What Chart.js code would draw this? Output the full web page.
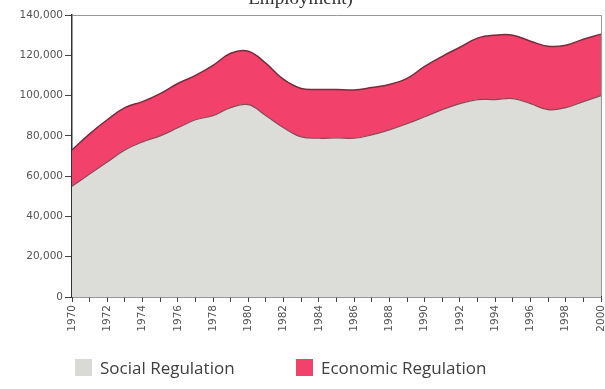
<!DOCTYPE html>
<html>
<head>
<meta charset="utf-8">
<script src="https://cdn.jsdelivr.net/npm/chart.js@4.4.1/dist/chart.umd.min.js"></script>
<style>
  body { margin: 0; background: #fff; overflow: hidden; }
  #wrap { position: absolute; left: 0; top: -12px; width: 605px; height: 401px; }
  #legend { position: absolute; left: 0; top: 357px; width: 605px; height: 24px;
            font-family: "Open Sans", sans-serif; font-size: 17px; color: #404040; }
  .item { position: absolute; top: 0; line-height: 22px; }
  .box { display: inline-block; width: 17px; height: 17px; vertical-align: -2px; margin-right: 8px; }
</style>
</head>
<body>
<div id="wrap"><canvas id="myChart" width="605" height="401"></canvas></div>
<div id="legend">
  <div class="item" style="left:75px"><span class="box" style="background:#d9d9d5"></span>Social Regulation</div>
  <div class="item" style="left:296px"><span class="box" style="background:#f2426b"></span>Economic Regulation</div>
</div>
<script>
const years = [1970, 1971, 1972, 1973, 1974, 1975, 1976, 1977, 1978, 1979,
  1980, 1981, 1982, 1983, 1984, 1985, 1986, 1987, 1988, 1989,
  1990, 1991, 1992, 1993, 1994, 1995, 1996, 1997, 1998, 1999, 2000];

const socialRegulation = [55000, 61000, 67000, 73000, 77000, 80000, 84000, 88000, 90000, 94000,
  95500, 90000, 84000, 79500, 78800, 79000, 78800, 80500, 83000, 86000,
  89500, 93000, 96000, 98000, 98000, 98500, 96000, 93000, 94000, 97000, 100000];

const economicRegulation = [18000, 20000, 21000, 21000, 20000, 21000, 22000, 22000, 25000, 27000,
  26500, 26000, 24000, 24000, 24200, 24000, 24000, 23500, 22500, 22500,
  25000, 26500, 28000, 30500, 32000, 31500, 31000, 31500, 31000, 31000, 30500];

const yTicks = [0, 20000, 40000, 60000, 80000, 100000, 120000, 140000];

const tickFont = { family: "DejaVu Sans, sans-serif", size: 10.5 };

new Chart("myChart", {
  type: "line",
  data: {
    labels: years,
    datasets: [{
      label: "Social Regulation",
      data: socialRegulation,
      backgroundColor: "#dcdcd8",
      borderColor: "#8a4a55",
      borderWidth: 1.2,
      fill: "origin",
      tension: 0.4,
      pointRadius: 0
    }, {
      label: "Economic Regulation",
      data: economicRegulation,
      backgroundColor: "#f2426b",
      borderColor: "#7a2c3c",
      borderWidth: 1.5,
      fill: "-1",
      tension: 0.4,
      pointRadius: 0
    }]
  },
  options: {
    animation: false,
    responsive: false,
    layout: { padding: { left: 0, right: 4, top: 0, bottom: 0 } },
    plugins: {
      legend: { display: false },
      tooltip: { enabled: false },
      title: {
        display: true,
        text: "Employment)",
        color: "#333",
        font: { family: "Liberation Serif, serif", size: 19, weight: "normal" },
        padding: { top: 0, bottom: 4.2 }
      }
    },
    scales: {
      x: {
        offset: false,
        border: { display: true, color: "#333", width: 1.5 },
        grid: {
          drawOnChartArea: true,
          tickLength: 5,
          tickColor: "#444",
          color: ctx => ctx.index === years.length - 1 ? "#999" : "rgba(0,0,0,0)"
        },
        ticks: {
          autoSkip: false,
          maxRotation: 90,
          minRotation: 90,
          padding: 3,
          color: "#555",
          font: tickFont,
          callback: function(value, index) {
            return years[index] % 2 === 0 ? String(years[index]) : "";
          }
        },
        afterFit: scale => {
          scale.height = 92;
          scale.paddingLeft = 0;
          scale.paddingRight = 4;
        }
      },
      y: {
        stacked: true,
        min: 0,
        max: 140000,
        border: { display: true, color: "#333", width: 1.5 },
        grid: {
          drawOnChartArea: true,
          tickLength: 7,
          tickColor: "#444",
          color: ctx => ctx.tick && ctx.tick.value === 140000 ? "#999" : "rgba(0,0,0,0)"
        },
        afterBuildTicks: scale => { scale.ticks = yTicks.map(v => ({ value: v })); },
        ticks: {
          padding: 2,
          color: "#555",
          font: tickFont
        },
        afterFit: scale => { scale.width = 72; }
      }
    }
  }
});
</script>
</body>
</html>
